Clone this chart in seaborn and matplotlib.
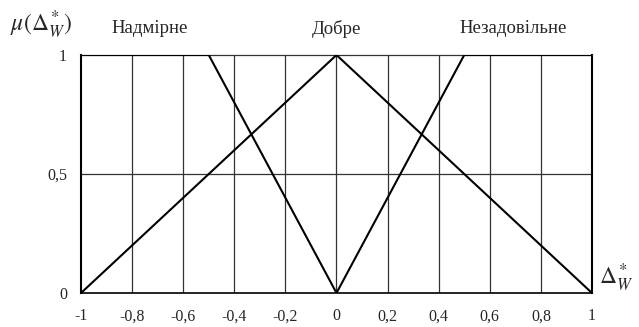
import matplotlib
matplotlib.use("Agg")
import matplotlib.pyplot as plt
import seaborn as sns
import pandas as pd

# Membership functions of the deviation Δ*_W
x_nadmirne = [-1.0, -0.5, 0.0]
y_nadmirne = [1.0, 1.0, 0.0]
x_dobre = [-1.0, 0.0, 1.0]
y_dobre = [0.0, 1.0, 0.0]
x_nezadov = [0.0, 0.5, 1.0]
y_nezadov = [0.0, 1.0, 1.0]

term_names = ["Надмірне", "Добре", "Незадовільне"]
term_label_x = [-0.73, 0.0, 0.69]

x_ticks = [-1, -0.8, -0.6, -0.4, -0.2, 0, 0.2, 0.4, 0.6, 0.8, 1]
x_tick_labels = ["-1", "-0,8", "-0,6", "-0,4", "-0,2", "0", "0,2", "0,4", "0,6", "0,8", "1"]
y_ticks = [0, 0.5, 1]
y_tick_labels = ["0", "0,5", "1"]

df = pd.concat([
    pd.DataFrame({"x": x_nadmirne, "mu": y_nadmirne, "term": term_names[0]}),
    pd.DataFrame({"x": x_dobre, "mu": y_dobre, "term": term_names[1]}),
    pd.DataFrame({"x": x_nezadov, "mu": y_nezadov, "term": term_names[2]}),
], ignore_index=True)

sns.set_style("white")
plt.rcParams["font.family"] = ["Liberation Serif", "DejaVu Serif"]
plt.rcParams["mathtext.fontset"] = "stix"

fig = plt.figure(figsize=(6.39, 3.27), dpi=100)
ax = fig.add_axes([0.1268, 0.104, 0.7996, 0.7278])

# grid
for xv in x_ticks[1:-1]:
    ax.axvline(xv, color="#333333", lw=0.9, zorder=1)
ax.axhline(0.5, color="#333333", lw=0.9, zorder=1)

sns.lineplot(data=df, x="x", y="mu", units="term", estimator=None,
             color="black", lw=1.5, sort=False, ax=ax, zorder=3, legend=False)

ax.set_xlim(-1, 1)
ax.set_ylim(0, 1)
ax.set_xticks(x_ticks)
ax.set_xticklabels(x_tick_labels)
ax.set_yticks(y_ticks)
ax.set_yticklabels(y_tick_labels)
ax.tick_params(axis="both", which="major", direction="out", length=4, width=1,
               color="black", labelsize=11.5, pad=6)
ax.tick_params(axis="x", pad=7)
for s in ["left", "bottom", "right", "top"]:
    ax.spines[s].set_visible(True)
    ax.spines[s].set_color("black")
ax.spines["left"].set_linewidth(1.5)
ax.spines["bottom"].set_linewidth(1.2)
ax.spines["right"].set_linewidth(1.5)
ax.spines["top"].set_linewidth(0.9)
ax.spines["top"].set_color("#333333")
ax.set_xlabel("")
ax.set_ylabel("")

for name, xl in zip(term_names, term_label_x):
    ax.text(xl, 1.11, name, ha="center", va="center", fontsize=13.5,
            transform=ax.transData, clip_on=False)

fig.text(0.064, 0.925, r"$\mu(\Delta^*_W)$", ha="center", va="center", fontsize=17)
fig.text(0.965, 0.15, r"$\Delta^*_W$", ha="center", va="center", fontsize=17)

fig.savefig("out.png", dpi=100)
